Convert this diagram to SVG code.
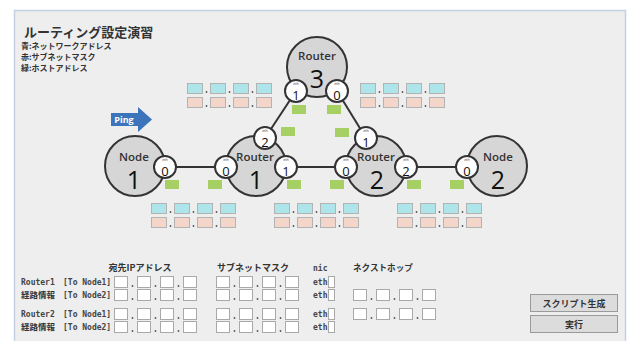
<svg xmlns="http://www.w3.org/2000/svg" xmlns:xlink="http://www.w3.org/1999/xlink" width="632" height="341" viewBox="0 0 632 341">
<style>
.jp{font-family:"Noto Sans CJK JP","Noto Sans",sans-serif;font-weight:bold;fill:#333}
.mono{font-family:"DejaVu Sans Mono","Liberation Mono",monospace;font-weight:bold;font-size:8px;fill:#444}
.big{fill:#d6d6d6;stroke:#333;stroke-width:2}
.eth{fill:#fff;stroke:#333;stroke-width:2}
.lbl{font-family:"Open Sans","DejaVu Sans",sans-serif;font-weight:600;font-size:11.5px;fill:#333;text-anchor:middle}
.num{font-family:"Open Sans","DejaVu Sans",sans-serif;font-size:25px;fill:#111;text-anchor:middle}
.et{font-family:"Open Sans","DejaVu Sans",sans-serif;font-size:3.5px;fill:#333;text-anchor:middle}
.ed{font-family:"Open Sans","DejaVu Sans",sans-serif;font-size:13px;font-weight:500;fill:#111;text-anchor:middle}
.cy{fill:#ade5ea;stroke:#b3b3b3;stroke-width:1}
.pk{fill:#f3d5c9;stroke:#b3b3b3;stroke-width:1}
.gr{fill:#a7d064}
.dot{fill:#555}
.in{fill:#fff;stroke:#a9a9a9;stroke-width:1}
.btn{fill:#dcdcdc;stroke:#9a9a9a;stroke-width:1}
.link{stroke:#333;stroke-width:2;fill:none}
</style>
<defs>
<g id="addr">
<rect class="cy" x="0.5" y="0.5" width="15" height="10"/><rect class="cy" x="23.5" y="0.5" width="15" height="10"/><rect class="cy" x="46.5" y="0.5" width="15" height="10"/><rect class="cy" x="69.5" y="0.5" width="15" height="10"/>
<rect class="pk" x="0.5" y="14.5" width="15" height="10"/><rect class="pk" x="23.5" y="14.5" width="15" height="10"/><rect class="pk" x="46.5" y="14.5" width="15" height="10"/><rect class="pk" x="69.5" y="14.5" width="15" height="10"/>
<circle class="dot" cx="19.5" cy="9" r="0.9"/><circle class="dot" cx="42.5" cy="9" r="0.9"/><circle class="dot" cx="65.5" cy="9" r="0.9"/>
<circle class="dot" cx="19.5" cy="23" r="0.9"/><circle class="dot" cx="42.5" cy="23" r="0.9"/><circle class="dot" cx="65.5" cy="23" r="0.9"/>
</g>
<g id="ip">
<rect class="in" x="0.5" y="0.5" width="13" height="11"/><rect class="in" x="23.5" y="0.5" width="13" height="11"/><rect class="in" x="46.5" y="0.5" width="13" height="11"/><rect class="in" x="69.5" y="0.5" width="13" height="11"/>
<circle class="dot" cx="18.5" cy="10" r="0.9"/><circle class="dot" cx="41.5" cy="10" r="0.9"/><circle class="dot" cx="64.5" cy="10" r="0.9"/>
</g>
</defs>
<rect x="0" y="0" width="632" height="341" fill="#fff"/>
<rect x="14.5" y="10.5" width="611" height="340" fill="#eeeeee" stroke="#c3d1e2" stroke-width="1.5"/>

<g id="title">
<text class="jp" x="24" y="37" font-size="13">ルーティング設定演習</text>
<text class="jp" x="21" y="49" font-size="8">青:ネットワークアドレス</text>
<text class="jp" x="21" y="60" font-size="8">赤:サブネットマスク</text>
<text class="jp" x="21" y="71" font-size="8">緑:ホストアドレス</text>
</g>

<g id="ping">
<polygon points="111,113 138,113 138,107 152,119.5 138,132 138,126 111,126" fill="#3c74bc"/>
<text x="124" y="123" font-family="'Open Sans','DejaVu Sans',sans-serif" font-weight="bold" font-size="9" fill="#fff" text-anchor="middle">Ping</text>
</g>

<g id="connectors">
<line class="link" x1="165" y1="167" x2="226" y2="167"/>
<line class="link" x1="286" y1="167" x2="346" y2="167"/>
<line class="link" x1="406" y1="167" x2="467" y2="167"/>
<line class="link" x1="265" y1="138" x2="296" y2="91"/>
<line class="link" x1="366" y1="138" x2="337" y2="91"/>
</g>

<g id="node1">
<circle class="big" cx="135" cy="166" r="30"/>
<text class="lbl" x="134" y="161">Node</text>
<text class="num" x="134" y="189">1</text>
<circle class="eth" cx="165" cy="167" r="11"/><text class="et" x="165" y="161">eth</text><text class="ed" x="165" y="175.5">0</text>
</g>

<g id="router1">
<circle class="big" cx="256" cy="166" r="30"/>
<text class="lbl" x="255" y="161">Router</text>
<text class="num" x="256" y="189">1</text>
<circle class="eth" cx="226" cy="167" r="11"/><text class="et" x="226" y="161">eth</text><text class="ed" x="226" y="175.5">0</text>
<circle class="eth" cx="286" cy="167" r="11"/><text class="et" x="286" y="161">eth</text><text class="ed" x="286" y="175.5">1</text>
<circle class="eth" cx="265" cy="138" r="11"/><text class="et" x="265" y="132">eth</text><text class="ed" x="265" y="146.5">2</text>
</g>

<g id="router2">
<circle class="big" cx="376" cy="166" r="30"/>
<text class="lbl" x="376" y="161">Router</text>
<text class="num" x="377" y="189">2</text>
<circle class="eth" cx="346" cy="167" r="11"/><text class="et" x="346" y="161">eth</text><text class="ed" x="346" y="175.5">0</text>
<circle class="eth" cx="406" cy="167" r="11"/><text class="et" x="406" y="161">eth</text><text class="ed" x="406" y="175.5">2</text>
<circle class="eth" cx="366" cy="138" r="11"/><text class="et" x="366" y="132">eth</text><text class="ed" x="366" y="146.5">1</text>
</g>

<g id="router3">
<circle class="big" cx="317" cy="67" r="30"/>
<text class="lbl" x="317" y="60">Router</text>
<text class="num" x="317" y="88">3</text>
<circle class="eth" cx="296" cy="91" r="11"/><text class="et" x="296" y="85">eth</text><text class="ed" x="296" y="99.5">1</text>
<circle class="eth" cx="337" cy="91" r="11"/><text class="et" x="337" y="85">eth</text><text class="ed" x="337" y="99.5">0</text>
</g>

<g id="node2">
<circle class="big" cx="497" cy="166" r="30"/>
<text class="lbl" x="498" y="161">Node</text>
<text class="num" x="498" y="189">2</text>
<circle class="eth" cx="467" cy="167" r="11"/><text class="et" x="467" y="161">eth</text><text class="ed" x="467" y="175.5">0</text>
</g>

<g id="hosts">
<rect class="gr" x="165" y="180" width="14" height="9"/>
<rect class="gr" x="208" y="180" width="14" height="9"/>
<rect class="gr" x="287" y="180" width="14" height="9"/>
<rect class="gr" x="281" y="127" width="14" height="9"/>
<rect class="gr" x="292" y="105" width="14" height="9"/>
<rect class="gr" x="327" y="105" width="14" height="9"/>
<rect class="gr" x="335" y="128" width="14" height="9"/>
<rect class="gr" x="330" y="180" width="14" height="9"/>
<rect class="gr" x="407" y="180" width="14" height="9"/>
<rect class="gr" x="450" y="180" width="14" height="9"/>
</g>

<g id="networks">
<use xlink:href="#addr" href="#addr" x="187" y="83"/>
<use xlink:href="#addr" href="#addr" x="360" y="83"/>
<use xlink:href="#addr" href="#addr" x="151" y="203"/>
<use xlink:href="#addr" href="#addr" x="274" y="203"/>
<use xlink:href="#addr" href="#addr" x="397" y="203"/>
</g>

<g id="form">
<text class="jp" x="140" y="271" font-size="9" text-anchor="middle">宛先IPアドレス</text>
<text class="jp" x="217" y="271" font-size="9">サブネットマスク</text>
<text class="mono" x="313" y="271">nic</text>
<text class="jp" x="353" y="271" font-size="8.6">ネクストホップ</text>

<text class="mono" x="21" y="285">Router1</text>
<text class="jp" x="21" y="298" font-size="8.5">経路情報</text>
<text class="mono" x="21" y="317">Router2</text>
<text class="jp" x="21" y="330" font-size="8.5">経路情報</text>

<text class="mono" x="63" y="285">[To Node1]</text>
<text class="mono" x="63" y="298">[To Node2]</text>
<text class="mono" x="63" y="317">[To Node1]</text>
<text class="mono" x="63" y="330">[To Node2]</text>

<use xlink:href="#ip" href="#ip" x="114" y="276"/>
<use xlink:href="#ip" href="#ip" x="114" y="289"/>
<use xlink:href="#ip" href="#ip" x="114" y="308"/>
<use xlink:href="#ip" href="#ip" x="114" y="321"/>
<use xlink:href="#ip" href="#ip" x="216" y="276"/>
<use xlink:href="#ip" href="#ip" x="216" y="289"/>
<use xlink:href="#ip" href="#ip" x="216" y="308"/>
<use xlink:href="#ip" href="#ip" x="216" y="321"/>

<text class="mono" x="313" y="285">eth</text>
<text class="mono" x="313" y="298">eth</text>
<text class="mono" x="313" y="317">eth</text>
<text class="mono" x="313" y="330">eth</text>
<rect class="in" x="328.5" y="276.5" width="6" height="11"/>
<rect class="in" x="328.5" y="289.5" width="6" height="11"/>
<rect class="in" x="328.5" y="308.5" width="6" height="11"/>
<rect class="in" x="328.5" y="321.5" width="6" height="11"/>

<use xlink:href="#ip" href="#ip" x="353" y="289"/>
<use xlink:href="#ip" href="#ip" x="353" y="308"/>

<rect class="btn" x="530.5" y="294.5" width="87" height="17"/>
<text class="jp" x="574" y="306.5" font-size="9" text-anchor="middle">スクリプト生成</text>
<rect class="btn" x="530.5" y="315.5" width="87" height="17"/>
<text class="jp" x="574" y="327.5" font-size="9" text-anchor="middle">実行</text>
</g>
</svg>
